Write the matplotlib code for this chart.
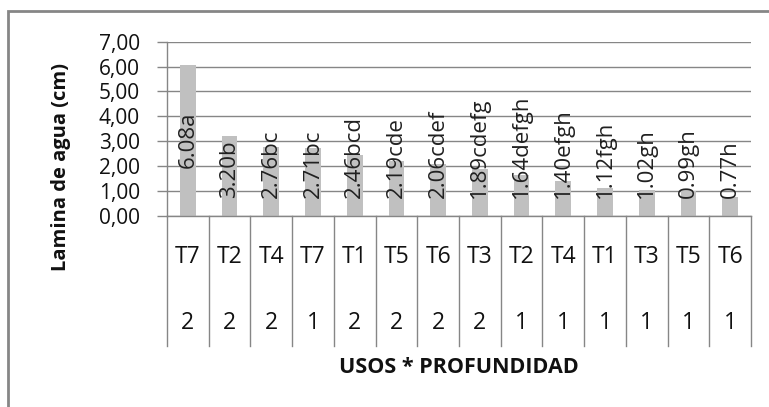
import matplotlib
matplotlib.use("Agg")
import matplotlib.pyplot as plt
from matplotlib.patches import Rectangle
from matplotlib.transforms import blended_transform_factory

# Data
usos = ["T7", "T2", "T4", "T7", "T1", "T5", "T6", "T3", "T2", "T4", "T1", "T3", "T5", "T6"]
profundidad = ["2", "2", "2", "1", "2", "2", "2", "2", "1", "1", "1", "1", "1", "1"]
lamina = [6.08, 3.20, 2.76, 2.71, 2.46, 2.19, 2.06, 1.89, 1.64, 1.40, 1.12, 1.02, 0.99, 0.77]
letras = ["a", "b", "bc", "bc", "bcd", "cde", "cdef", "cdefg", "defgh", "efgh", "fgh", "gh", "gh", "h"]
yticks = [0, 1, 2, 3, 4, 5, 6, 7]

FONT = ["Open Sans", "DejaVu Sans"]
plt.rcParams["font.family"] = FONT

W, H = 769, 407
fig = plt.figure(figsize=(W / 100, H / 100), dpi=100)

# plot area in pixel coordinates
x0, x1 = 167, 751
y_top, y_base = 41.7, 215.7
ax = fig.add_axes([x0 / W, 1 - y_base / H, (x1 - x0) / W, (y_base - y_top) / H])

grid_col = "#868686"
text_col = "#111111"
n = len(lamina)
xs = list(range(n))
ax.bar(xs, lamina, width=0.38, color="#c0c0c0", zorder=2)

ax.set_xlim(-0.5, n - 0.5)
ax.set_ylim(0, 7)
ax.set_yticks(yticks)
ax.set_yticklabels([f"{v:.2f}".replace(".", ",") for v in yticks], fontsize=15, color=text_col)
ax.tick_params(axis="y", length=7.5, width=1, color=grid_col, pad=12)
ax.set_xticks([])
ax.yaxis.grid(True, color=grid_col, linewidth=1, zorder=1)
ax.set_axisbelow(True)
for s in ["top", "right"]:
    ax.spines[s].set_visible(False)
for s in ["left", "bottom"]:
    ax.spines[s].set_color(grid_col)
    ax.spines[s].set_linewidth(1)

# category table below the axis
trans = blended_transform_factory(ax.transData, ax.transAxes)
px = 1 / (y_base - y_top)  # one pixel in axes fraction
row1 = -(257 - y_base) * px
row2 = -(323 - y_base) * px
table_bottom = -(346.5 - y_base) * px
for b in [i - 0.5 for i in range(n + 1)]:
    ax.plot([b, b], [0, table_bottom], transform=trans, color=grid_col,
            linewidth=1, clip_on=False)
for i in xs:
    ax.text(i, row1, usos[i], transform=trans, ha="center", va="center",
            fontsize=16.5, color=text_col)
    ax.text(i, row2, profundidad[i], transform=trans, ha="center", va="center",
            fontsize=16.5, color=text_col)

ax.text(0.5, -(368 - y_base) * px, "USOS * PROFUNDIDAD", transform=ax.transAxes,
        ha="center", va="center", fontsize=15.5, fontweight="bold", color=text_col)
fig.text(61 / W, 1 - 167 / H, "Lamina de agua (cm)", rotation=90, ha="center",
         va="center", fontsize=14.5, fontweight="bold", color=text_col)

# value labels inside the bars: centred when they fit, otherwise lifted to a floor
floor = 0.7
labels = []
for i, v in enumerate(lamina):
    t = ax.text(i, floor, f"{v:.2f}{letras[i]}", rotation=90, rotation_mode="anchor",
                ha="left", va="center", fontsize=16, color="#202020", zorder=3)
    labels.append(t)
fig.canvas.draw()
r = fig.canvas.get_renderer()
units_per_px = 7 / (y_base - y_top)
for t, v in zip(labels, lamina):
    length = t.get_window_extent(r).height * units_per_px
    if v / 2 - length / 2 > floor:
        t.set_y(v / 2)
        t.set_ha("center")

# chart frame
fig.patches.append(Rectangle((8 / W, -0.1), 1.2, 1 - 11 / H + 0.1,
                             transform=fig.transFigure, fill=False,
                             edgecolor="#868686", linewidth=2))

fig.savefig("out.png", dpi=100)
